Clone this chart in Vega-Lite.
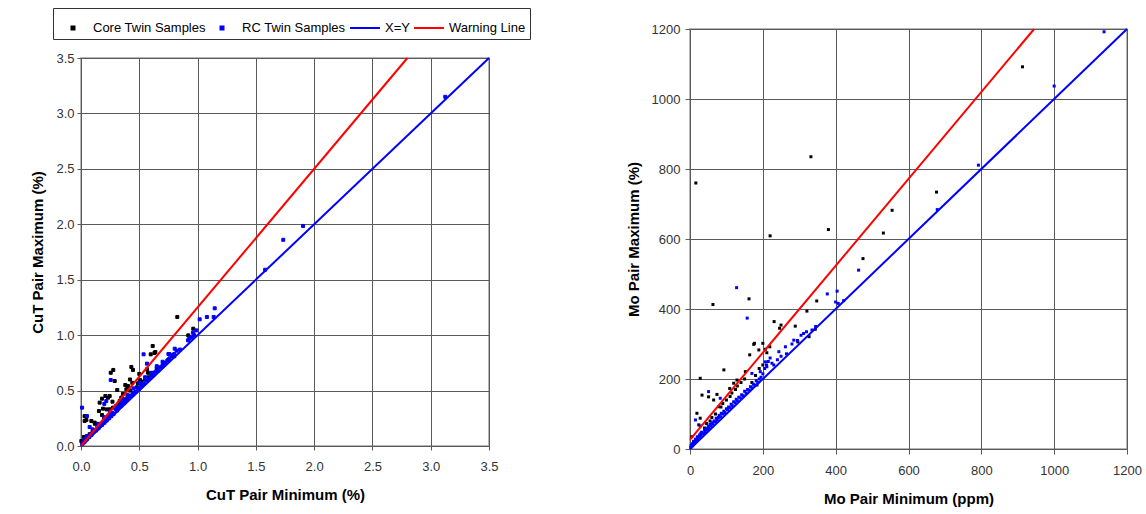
{
  "$schema": "https://vega.github.io/schema/vega-lite/v6.json",
  "padding": {"left": 30, "top": 6, "right": 5, "bottom": 5},
  "background": "white",
  "spacing": 93,
  "config": {
    "font": "Liberation Sans",
    "view": {"stroke": "#a0a0a0", "strokeWidth": 1.5},
    "axis": {
      "grid": true, "gridColor": "#5a5a5a", "gridOpacity": 1, "gridWidth": 1,
      "domain": false, "tickColor": "#5a5a5a", "tickSize": 4, "labelFlush": false,
      "labelFont": "Liberation Sans", "labelFontSize": 13, "labelColor": "#333333",
      "titleFont": "Liberation Sans", "titleFontSize": 15, "titleFontWeight": "bold", "titleColor": "#000000"
    },
    "legend": {
      "labelFont": "Liberation Sans", "labelFontSize": 13, "labelColor": "#000000",
      "strokeColor": "#333333", "padding": 4, "columnPadding": 0, "labelOffset": 4, "symbolStrokeWidth": 2, "symbolSize": 900
    }
  },
  "datasets": {
    "cut": [
      {"s":"C","min":0.826,"max":1.164},{"s":"C","min":0.963,"max":1.058},{"s":"C","min":0.92,"max":0.998},{"s":"C","min":0.615,"max":0.902},
      {"s":"C","min":0.638,"max":0.848},{"s":"C","min":0.598,"max":0.827},{"s":"C","min":0.80,"max":0.81},{"s":"C","min":0.76,"max":0.827},
      {"s":"C","min":0.277,"max":0.686},{"s":"C","min":0.255,"max":0.661},{"s":"C","min":0.289,"max":0.586},{"s":"C","min":0.432,"max":0.713},
      {"s":"C","min":0.446,"max":0.686},{"s":"C","min":0.566,"max":0.692},{"s":"C","min":0.575,"max":0.661},{"s":"C","min":0.506,"max":0.595},
      {"s":"C","min":0.489,"max":0.565},{"s":"C","min":0.403,"max":0.541},{"s":"C","min":0.389,"max":0.511},{"s":"C","min":0.311,"max":0.505},
      {"s":"C","min":0.209,"max":0.451},{"s":"C","min":0.246,"max":0.451},{"s":"C","min":0.18,"max":0.427},{"s":"C","min":0.232,"max":0.436},
      {"s":"C","min":0.346,"max":0.436},{"s":"C","min":0.332,"max":0.406},{"s":"C","min":0.375,"max":0.421},{"s":"C","min":0.16,"max":0.391},
      {"s":"C","min":0.189,"max":0.337},{"s":"C","min":0.246,"max":0.331},{"s":"C","min":0.275,"max":0.346},{"s":"C","min":0.154,"max":0.316},
      {"s":"C","min":0.031,"max":0.27},{"s":"C","min":0.046,"max":0.235},{"s":"C","min":0.089,"max":0.226},{"s":"C","min":0.117,"max":0.211},
      {"s":"C","min":0.031,"max":0.226},{"s":"C","min":0.074,"max":0.106},{"s":"C","min":0.026,"max":0.081},{"s":"C","min":0.003,"max":0.045},
      {"s":"C","min":0.3,"max":0.35},{"s":"C","min":0.33,"max":0.38},{"s":"C","min":0.36,"max":0.42},{"s":"C","min":0.4,"max":0.45},
      {"s":"C","min":0.42,"max":0.5},{"s":"C","min":0.45,"max":0.48},{"s":"C","min":0.48,"max":0.53},{"s":"C","min":0.52,"max":0.58},
      {"s":"C","min":0.55,"max":0.6},{"s":"C","min":0.58,"max":0.62},{"s":"C","min":0.62,"max":0.66},{"s":"C","min":0.65,"max":0.7},
      {"s":"C","min":0.7,"max":0.72},{"s":"C","min":0.75,"max":0.78},{"s":"C","min":0.78,"max":0.81},{"s":"C","min":0.05,"max":0.07},
      {"s":"C","min":0.1,"max":0.13},{"s":"C","min":0.15,"max":0.19},{"s":"C","min":0.2,"max":0.25},{"s":"C","min":0.25,"max":0.3},
      {"s":"C","min":0.12,"max":0.2},{"s":"C","min":0.18,"max":0.28},{"s":"C","min":0.22,"max":0.33},{"s":"C","min":0.27,"max":0.4},
      {"s":"C","min":0.38,"max":0.55},{"s":"C","min":0.42,"max":0.6},{"s":"C","min":0.5,"max":0.65},{"s":"C","min":0.63,"max":0.84},
      {"s":"C","min":0.44,"max":0.57},{"s":"C","min":0.36,"max":0.47},{"s":"C","min":0.4,"max":0.52},
      {"s":"R","min":0.01,"max":0.015},{"s":"R","min":0.02,"max":0.03},{"s":"R","min":0.03,"max":0.035},{"s":"R","min":0.04,"max":0.05},
      {"s":"R","min":0.05,"max":0.06},{"s":"R","min":0.06,"max":0.08},{"s":"R","min":0.07,"max":0.08},{"s":"R","min":0.08,"max":0.1},
      {"s":"R","min":0.09,"max":0.1},{"s":"R","min":0.1,"max":0.12},{"s":"R","min":0.11,"max":0.13},{"s":"R","min":0.12,"max":0.14},
      {"s":"R","min":0.13,"max":0.14},{"s":"R","min":0.14,"max":0.17},{"s":"R","min":0.15,"max":0.16},{"s":"R","min":0.16,"max":0.18},
      {"s":"R","min":0.17,"max":0.2},{"s":"R","min":0.18,"max":0.19},{"s":"R","min":0.19,"max":0.22},{"s":"R","min":0.2,"max":0.21},
      {"s":"R","min":0.21,"max":0.24},{"s":"R","min":0.22,"max":0.23},{"s":"R","min":0.23,"max":0.26},{"s":"R","min":0.24,"max":0.25},
      {"s":"R","min":0.25,"max":0.28},{"s":"R","min":0.26,"max":0.27},{"s":"R","min":0.27,"max":0.3},{"s":"R","min":0.28,"max":0.29},
      {"s":"R","min":0.3,"max":0.33},{"s":"R","min":0.31,"max":0.32},{"s":"R","min":0.32,"max":0.35},{"s":"R","min":0.34,"max":0.36},
      {"s":"R","min":0.35,"max":0.38},{"s":"R","min":0.37,"max":0.39},{"s":"R","min":0.38,"max":0.41},{"s":"R","min":0.4,"max":0.42},
      {"s":"R","min":0.42,"max":0.45},{"s":"R","min":0.44,"max":0.46},{"s":"R","min":0.45,"max":0.48},{"s":"R","min":0.47,"max":0.49},
      {"s":"R","min":0.49,"max":0.52},{"s":"R","min":0.5,"max":0.52},{"s":"R","min":0.52,"max":0.55},{"s":"R","min":0.54,"max":0.56},
      {"s":"R","min":0.56,"max":0.59},{"s":"R","min":0.58,"max":0.6},{"s":"R","min":0.6,"max":0.63},{"s":"R","min":0.62,"max":0.64},
      {"s":"R","min":0.64,"max":0.67},{"s":"R","min":0.66,"max":0.68},{"s":"R","min":0.68,"max":0.71},{"s":"R","min":0.7,"max":0.73},
      {"s":"R","min":0.72,"max":0.75},{"s":"R","min":0.74,"max":0.77},{"s":"R","min":0.76,"max":0.79},{"s":"R","min":0.78,"max":0.82},
      {"s":"R","min":0.8,"max":0.83},{"s":"R","min":0.82,"max":0.86},{"s":"R","min":0.85,"max":0.87},
      {"s":"R","min":0.03,"max":0.06},{"s":"R","min":0.05,"max":0.09},{"s":"R","min":0.1,"max":0.15},{"s":"R","min":0.15,"max":0.2},
      {"s":"R","min":0.2,"max":0.26},{"s":"R","min":0.25,"max":0.31},{"s":"R","min":0.3,"max":0.36},{"s":"R","min":0.35,"max":0.42},
      {"s":"R","min":0.4,"max":0.46},{"s":"R","min":0.45,"max":0.52},{"s":"R","min":0.5,"max":0.57},{"s":"R","min":0.55,"max":0.62},
      {"s":"R","min":0.6,"max":0.66},{"s":"R","min":0.65,"max":0.72},{"s":"R","min":0.7,"max":0.76},{"s":"R","min":0.75,"max":0.83},
      {"s":"R","min":0.009,"max":0.346},{"s":"R","min":0.051,"max":0.27},{"s":"R","min":0.074,"max":0.171},{"s":"R","min":0.255,"max":0.595},
      {"s":"R","min":0.217,"max":0.406},{"s":"R","min":0.2,"max":0.38},{"s":"R","min":0.537,"max":0.827},{"s":"R","min":0.566,"max":0.743},
      {"s":"R","min":0.804,"max":0.878},{"s":"R","min":0.918,"max":0.953},{"s":"R","min":0.96,"max":1.022},{"s":"R","min":0.99,"max":1.043},
      {"s":"R","min":0.93,"max":0.97},{"s":"R","min":0.95,"max":0.98},{"s":"R","min":0.97,"max":1.0},
      {"s":"R","min":1.018,"max":1.143},{"s":"R","min":1.08,"max":1.164},{"s":"R","min":1.138,"max":1.164},{"s":"R","min":1.147,"max":1.242},
      {"s":"R","min":1.58,"max":1.59},{"s":"R","min":1.735,"max":1.86},{"s":"R","min":1.905,"max":1.985},{"s":"R","min":3.125,"max":3.15},
      {"s":"XY","min":0,"max":0},{"s":"XY","min":3.5,"max":3.5},
      {"s":"W","min":0,"max":0},{"s":"W","min":2.8,"max":3.5}
    ],
    "mo": [
      {"s":"C","min":16,"max":760},{"s":"C","min":332,"max":835},{"s":"C","min":913,"max":1092},{"s":"C","min":677,"max":734},
      {"s":"C","min":555,"max":682},{"s":"C","min":220,"max":609},{"s":"C","min":380,"max":627},{"s":"C","min":531,"max":617},
      {"s":"C","min":475,"max":544},{"s":"C","min":162,"max":429},{"s":"C","min":63,"max":413},{"s":"C","min":348,"max":423},
      {"s":"C","min":321,"max":394},{"s":"C","min":231,"max":364},{"s":"C","min":250,"max":354},{"s":"C","min":246,"max":345},
      {"s":"C","min":289,"max":351},{"s":"C","min":344,"max":342},{"s":"C","min":296,"max":306},{"s":"C","min":327,"max":321},
      {"s":"C","min":175,"max":299},{"s":"C","min":189,"max":283},{"s":"C","min":207,"max":285},{"s":"C","min":219,"max":292},
      {"s":"C","min":211,"max":275},{"s":"C","min":164,"max":269},{"s":"C","min":200,"max":302},{"s":"C","min":177,"max":302},
      {"s":"C","min":93,"max":226},{"s":"C","min":152,"max":221},{"s":"C","min":28,"max":202},{"s":"C","min":129,"max":197},
      {"s":"C","min":120,"max":188},{"s":"C","min":109,"max":173},{"s":"C","min":33,"max":154},{"s":"C","min":51,"max":149},
      {"s":"C","min":74,"max":156},{"s":"C","min":65,"max":140},{"s":"C","min":79,"max":121},{"s":"C","min":19,"max":102},
      {"s":"C","min":28,"max":88},{"s":"C","min":24,"max":69},{"s":"C","min":45,"max":73},{"s":"C","min":5,"max":35},
      {"s":"C","min":184,"max":183},{"s":"C","min":10,"max":20},{"s":"C","min":30,"max":45},{"s":"C","min":40,"max":60},
      {"s":"C","min":55,"max":80},{"s":"C","min":60,"max":90},{"s":"C","min":70,"max":100},{"s":"C","min":85,"max":120},
      {"s":"C","min":90,"max":130},{"s":"C","min":100,"max":140},{"s":"C","min":110,"max":150},{"s":"C","min":115,"max":160},
      {"s":"C","min":125,"max":170},{"s":"C","min":130,"max":180},{"s":"C","min":140,"max":190},{"s":"C","min":150,"max":200},
      {"s":"C","min":170,"max":190},{"s":"C","min":180,"max":210},{"s":"C","min":190,"max":230},{"s":"C","min":200,"max":240},
      {"s":"R","min":2,"max":4},{"s":"R","min":3,"max":10},{"s":"R","min":5,"max":8},{"s":"R","min":6,"max":15},
      {"s":"R","min":8,"max":12},{"s":"R","min":10,"max":14},{"s":"R","min":10,"max":22},{"s":"R","min":12,"max":18},
      {"s":"R","min":14,"max":20},{"s":"R","min":15,"max":28},{"s":"R","min":17,"max":24},{"s":"R","min":19,"max":26},
      {"s":"R","min":20,"max":35},{"s":"R","min":22,"max":30},{"s":"R","min":24,"max":33},{"s":"R","min":26,"max":40},
      {"s":"R","min":28,"max":36},{"s":"R","min":30,"max":40},{"s":"R","min":32,"max":48},{"s":"R","min":35,"max":44},
      {"s":"R","min":37,"max":46},{"s":"R","min":40,"max":55},{"s":"R","min":42,"max":50},{"s":"R","min":45,"max":58},
      {"s":"R","min":48,"max":56},{"s":"R","min":50,"max":65},{"s":"R","min":52,"max":60},{"s":"R","min":55,"max":70},
      {"s":"R","min":58,"max":66},{"s":"R","min":60,"max":75},{"s":"R","min":63,"max":72},{"s":"R","min":66,"max":80},
      {"s":"R","min":70,"max":78},{"s":"R","min":72,"max":88},{"s":"R","min":75,"max":84},{"s":"R","min":78,"max":90},
      {"s":"R","min":80,"max":96},{"s":"R","min":84,"max":92},{"s":"R","min":86,"max":102},{"s":"R","min":90,"max":100},
      {"s":"R","min":93,"max":108},{"s":"R","min":96,"max":104},{"s":"R","min":100,"max":115},{"s":"R","min":103,"max":112},
      {"s":"R","min":106,"max":120},{"s":"R","min":110,"max":118},{"s":"R","min":113,"max":128},{"s":"R","min":116,"max":124},
      {"s":"R","min":120,"max":135},{"s":"R","min":124,"max":132},{"s":"R","min":127,"max":142},{"s":"R","min":130,"max":138},
      {"s":"R","min":134,"max":148},{"s":"R","min":138,"max":146},{"s":"R","min":142,"max":155},{"s":"R","min":146,"max":152},
      {"s":"R","min":150,"max":165},{"s":"R","min":154,"max":160},{"s":"R","min":158,"max":170},{"s":"R","min":162,"max":168},
      {"s":"R","min":166,"max":178},{"s":"R","min":170,"max":175},{"s":"R","min":174,"max":185},{"s":"R","min":178,"max":182},
      {"s":"R","min":182,"max":195},{"s":"R","min":186,"max":190},{"s":"R","min":190,"max":200},{"s":"R","min":195,"max":205},
      {"s":"R","min":200,"max":215},{"s":"R","min":205,"max":230},{"s":"R","min":210,"max":240},{"s":"R","min":215,"max":250},
      {"s":"R","min":220,"max":260},{"s":"R","min":225,"max":245},{"s":"R","min":230,"max":240},{"s":"R","min":240,"max":255},
      {"s":"R","min":250,"max":265},{"s":"R","min":265,"max":272},{"s":"R","min":280,"max":300},{"s":"R","min":295,"max":310},
      {"s":"R","min":305,"max":325},{"s":"R","min":320,"max":335},{"s":"R","min":335,"max":340},{"s":"R","min":345,"max":350},
      {"s":"R","min":400,"max":420},{"s":"R","min":404,"max":451},{"s":"R","min":407,"max":416},{"s":"R","min":422,"max":424},
      {"s":"R","min":377,"max":443},{"s":"R","min":463,"max":511},{"s":"R","min":679,"max":684},{"s":"R","min":792,"max":811},
      {"s":"R","min":1000,"max":1037},{"s":"R","min":1137,"max":1192},{"s":"R","min":128,"max":461},{"s":"R","min":157,"max":374},
      {"s":"R","min":51,"max":164},{"s":"R","min":83,"max":145},{"s":"R","min":15,"max":83},{"s":"R","min":28,"max":66},
      {"s":"R","min":207,"max":249},{"s":"R","min":211,"max":235},{"s":"R","min":193,"max":221},{"s":"R","min":170,"max":216},
      {"s":"R","min":244,"max":278},{"s":"R","min":262,"max":292},{"s":"R","min":285,"max":311},{"s":"R","min":312,"max":330},
      {"s":"XY","min":0,"max":0},{"s":"XY","min":1200,"max":1200},
      {"s":"W","min":0,"max":27},{"s":"W","min":945,"max":1200}
    ]
  },
  "hconcat": [
    {
      "spacing": -24,
      "resolve": {"scale": {"fill": "independent", "stroke": "independent", "shape": "independent"}},
      "vconcat": [
        {
          "width": 408,
          "height": 1,
          "view": {"stroke": null},
          "data": {"values": []},
          "mark": "point"
        },
        {
          "width": 408,
          "height": 388,
          "data": {"name": "cut"},
          "layer": [
            {
              "transform": [{"filter": "datum.s == 'C' || datum.s == 'R'"}],
              "mark": {"type": "point", "filled": true, "opacity": 1, "strokeWidth": 1, "size": 900},
              "encoding": {
                "x": {"field": "min", "type": "quantitative", "scale": {"domain": [0, 3.5], "nice": false},
                      "axis": {"title": "CuT Pair Minimum (%)", "values": [0, 0.5, 1, 1.5, 2, 2.5, 3, 3.5], "format": ".1f", "labelPadding": 10, "titlePadding": 14}},
                "y": {"field": "max", "type": "quantitative", "scale": {"domain": [0, 3.5], "nice": false},
                      "axis": {"title": "CuT Pair Maximum (%)", "values": [0, 0.5, 1, 1.5, 2, 2.5, 3, 3.5], "format": ".1f", "labelPadding": 3, "titlePadding": 10}},
                "fill": {
                  "field": "s", "type": "nominal",
                  "scale": {"domain": ["C", "R", "XY", "W"], "range": ["#000000", "#0000ff", "#0000ff", "#ff0000"]},
                  "legend": {"title": null, "orient": "none", "legendX": -28, "legendY": -50, "direction": "horizontal",
                    "labelExpr": "datum.value == 'C' ? 'Core Twin Samples' : datum.value == 'R' ? 'RC Twin Samples' : datum.value == 'XY' ? 'X=Y' : 'Warning Line'"}
                },
                "stroke": {
                  "field": "s", "type": "nominal",
                  "scale": {"domain": ["C", "R", "XY", "W"], "range": ["#000000", "#0000ff", "#0000ff", "#ff0000"]},
                  "legend": {"title": null, "orient": "none", "legendX": -28, "legendY": -50, "direction": "horizontal",
                    "labelExpr": "datum.value == 'C' ? 'Core Twin Samples' : datum.value == 'R' ? 'RC Twin Samples' : datum.value == 'XY' ? 'X=Y' : 'Warning Line'"}
                },
                "shape": {
                  "field": "s", "type": "nominal",
                  "scale": {"domain": ["C", "R", "XY", "W"], "range": ["M-0.1,-0.1H0.1V0.1H-0.1Z", "M-0.1,-0.1H0.1V0.1H-0.1Z", "M-1,0H1", "M-1,0H1"]},
                  "legend": {"title": null, "orient": "none", "legendX": -28, "legendY": -50, "direction": "horizontal",
                    "labelExpr": "datum.value == 'C' ? 'Core Twin Samples' : datum.value == 'R' ? 'RC Twin Samples' : datum.value == 'XY' ? 'X=Y' : 'Warning Line'"}
                }
              }
            },
            {
              "transform": [{"filter": "datum.s == 'XY'"}],
              "mark": {"type": "line", "strokeWidth": 2, "color": "#0000ff"},
              "encoding": {
                "x": {"field": "min", "type": "quantitative"},
                "y": {"field": "max", "type": "quantitative"}
              }
            },
            {
              "transform": [{"filter": "datum.s == 'W'"}],
              "mark": {"type": "line", "strokeWidth": 2, "color": "#ff0000"},
              "encoding": {
                "x": {"field": "min", "type": "quantitative"},
                "y": {"field": "max", "type": "quantitative"}
              }
            }
          ]
        }
      ]
    },
    {
      "width": 437,
      "height": 420,
      "data": {"name": "mo"},
      "layer": [
        {
          "transform": [{"filter": "datum.s == 'C' || datum.s == 'R'"}],
          "mark": {"type": "point", "shape": "square", "filled": true, "size": 9, "opacity": 1, "strokeWidth": 1},
          "encoding": {
            "x": {"field": "min", "type": "quantitative", "scale": {"domain": [0, 1200], "nice": false},
                  "axis": {"title": "Mo Pair Minimum (ppm)", "values": [0, 200, 400, 600, 800, 1000, 1200], "format": "d", "tickSize": 5, "labelPadding": 10, "titlePadding": 14}},
            "y": {"field": "max", "type": "quantitative", "scale": {"domain": [0, 1200], "nice": false},
                  "axis": {"title": "Mo Pair Maximum (%)", "values": [0, 200, 400, 600, 800, 1000, 1200], "format": "d", "tickSize": 5, "labelPadding": 5, "titlePadding": 10}},
            "color": {
              "field": "s", "type": "nominal",
              "scale": {"domain": ["C", "R"], "range": ["#000000", "#0000ff"]},
              "legend": null
            }
          }
        },
        {
          "transform": [{"filter": "datum.s == 'XY'"}],
          "mark": {"type": "line", "strokeWidth": 2, "color": "#0000ff"},
          "encoding": {
            "x": {"field": "min", "type": "quantitative"},
            "y": {"field": "max", "type": "quantitative"}
          }
        },
        {
          "transform": [{"filter": "datum.s == 'W'"}],
          "mark": {"type": "line", "strokeWidth": 2, "color": "#ff0000"},
          "encoding": {
            "x": {"field": "min", "type": "quantitative"},
            "y": {"field": "max", "type": "quantitative"}
          }
        }
      ]
    }
  ],
  "resolve": {"scale": {"color": "independent", "fill": "independent", "stroke": "independent", "shape": "independent"}}
}
